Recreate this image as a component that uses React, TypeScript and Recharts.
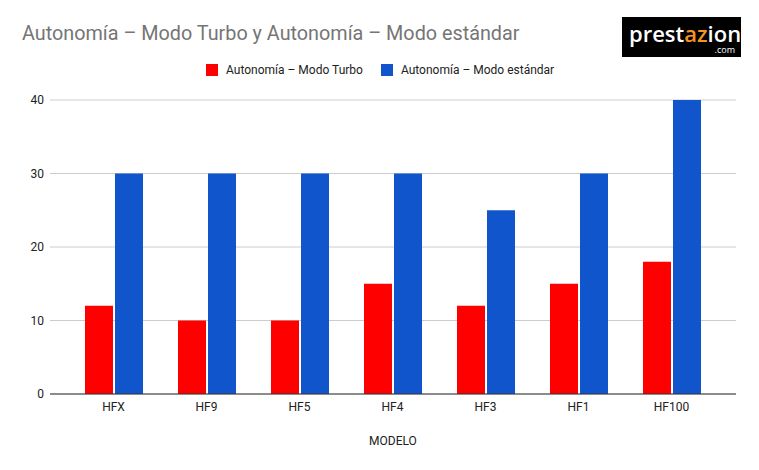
import React from 'react';
import { BarChart, Bar, XAxis, YAxis, CartesianGrid } from 'recharts';

const modelos = ['HFX', 'HF9', 'HF5', 'HF4', 'HF3', 'HF1', 'HF100'];
const turbo = [12, 10, 10, 15, 12, 15, 18];
const estandar = [30, 30, 30, 30, 25, 30, 40];
const yTicks = [0, 10, 20, 30, 40];

const series = [
  { key: 'turbo', name: 'Autonomía – Modo Turbo', color: '#ff0000' },
  { key: 'estandar', name: 'Autonomía – Modo estándar', color: '#1155cc' },
];

const data = modelos.map((m, i) => ({ modelo: m, turbo: turbo[i], estandar: estandar[i] }));

const font = 'Roboto, Arial, sans-serif';

export default function App() {
  return (
    <div style={{ position: 'absolute', left: 0, top: 0, width: 759, height: 470, background: '#fff', fontFamily: font }}>
      <div style={{ position: 'absolute', left: 22, top: 22, fontSize: 19.8, color: '#757575', whiteSpace: 'nowrap' }}>
        Autonomía – Modo Turbo y Autonomía – Modo estándar
      </div>

      <div style={{ position: 'absolute', left: 206, top: 63, display: 'flex', alignItems: 'center', fontSize: 12, color: '#222' }}>
        {series.map((s) => (
          <div key={s.key} style={{ display: 'flex', alignItems: 'center', marginRight: 18 }}>
            <span style={{ width: 12, height: 12, background: s.color, display: 'inline-block', marginRight: 8 }} />
            <span>{s.name}</span>
          </div>
        ))}
      </div>

      <div style={{ position: 'absolute', left: 622, top: 17, width: 119, height: 40, background: '#000', overflow: 'hidden' }}>
        <div style={{ position: 'absolute', left: 7, top: 5, fontSize: 22, fontWeight: 600, color: '#fff', fontFamily: '"Open Sans", sans-serif', lineHeight: '22px', whiteSpace: 'nowrap' }}>
          prest<span style={{ color: '#f7941d' }}>az</span>ion
        </div>
        <div style={{ position: 'absolute', right: 6, top: 28, fontSize: 9, color: '#fff', fontFamily: '"Open Sans", sans-serif', lineHeight: '10px' }}>
          .com
        </div>
      </div>

      <div style={{ position: 'absolute', left: 0, top: 0 }}>
        <BarChart
          width={759}
          height={470}
          data={data}
          margin={{ top: 100, right: 23, left: 0, bottom: 0 }}
          barGap={2}
          barCategoryGap="18.8%"
        >
          <CartesianGrid vertical={false} stroke="#cccccc" />
          <XAxis
            dataKey="modelo"
            height={76}
            padding={{ left: 17, right: 18 }}
            tickLine={false}
            axisLine={{ stroke: '#333333' }}
            tick={{ fill: '#222222', fontSize: 12, fontFamily: font }}
            label={{ value: 'MODELO', position: 'insideBottom', offset: 25, fill: '#222222', fontSize: 12, fontFamily: font }}
          />
          <YAxis
            width={50}
            domain={[0, 40]}
            ticks={yTicks}
            axisLine={false}
            tickLine={false}
            tickMargin={0}
            tick={{ fill: '#222222', fontSize: 12, fontFamily: font }}
          />
          {series.map((s) => (
            <Bar key={s.key} dataKey={s.key} name={s.name} fill={s.color} barSize={28} isAnimationActive={false} />
          ))}
        </BarChart>
      </div>
    </div>
  );
}
